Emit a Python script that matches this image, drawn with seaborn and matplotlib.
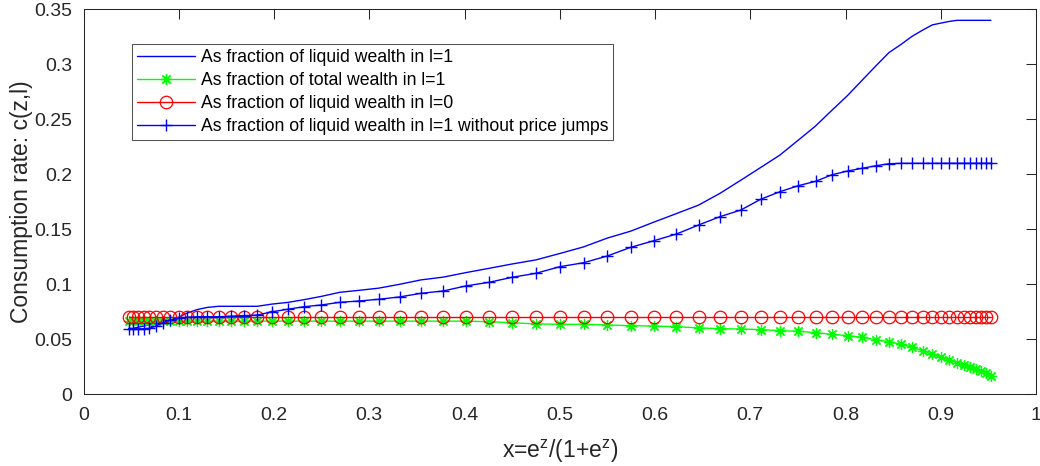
import numpy as np
import pandas as pd
import matplotlib
matplotlib.use("Agg")
import matplotlib.pyplot as plt
import seaborn as sns

# grid of x = e^z/(1+e^z)
x = [0.0474, 0.0522, 0.0573, 0.0630, 0.0691, 0.0759, 0.0832, 0.0911, 0.0998, 0.1091,
     0.1192, 0.1301, 0.1419, 0.1545, 0.1680, 0.1824, 0.1978, 0.2142, 0.2315, 0.2497,
     0.2689, 0.2891, 0.3100, 0.3318, 0.3543, 0.3775, 0.4013, 0.4256, 0.4502, 0.4750,
     0.5000, 0.5250, 0.5498, 0.5744, 0.5987, 0.6225, 0.6457, 0.6682, 0.6900, 0.7109,
     0.7311, 0.7503, 0.7685, 0.7858, 0.8022, 0.8176, 0.8320, 0.8455, 0.8581, 0.8699,
     0.8808, 0.8909, 0.9002, 0.9089, 0.9168, 0.9241, 0.9309, 0.9370, 0.9427, 0.9478,
     0.9526]

liquid_l1 = [0.060, 0.060, 0.061, 0.062, 0.063, 0.064, 0.065, 0.067, 0.070, 0.074,
             0.077, 0.079, 0.080, 0.080, 0.080, 0.080, 0.082, 0.0835, 0.086, 0.089,
             0.0927, 0.0945, 0.0965, 0.100, 0.104, 0.1065, 0.1106, 0.1145, 0.1185, 0.1222,
             0.128, 0.134, 0.142, 0.1483, 0.1565, 0.1643, 0.172, 0.1827, 0.1946, 0.2062,
             0.2175, 0.231, 0.2439, 0.2583, 0.2717, 0.2857, 0.2987, 0.3106, 0.318, 0.3255,
             0.331, 0.3358, 0.3375, 0.339, 0.340, 0.340, 0.340, 0.340, 0.340, 0.340,
             0.340]

total_l1 = [0.0665, 0.0665, 0.0665, 0.0665, 0.0665, 0.0665, 0.0665, 0.0665, 0.0665, 0.0665,
            0.0665, 0.0665, 0.0665, 0.0665, 0.0665, 0.0665, 0.0665, 0.0665, 0.0665, 0.0665,
            0.0665, 0.0665, 0.0665, 0.0665, 0.0665, 0.0665, 0.0665, 0.066, 0.065, 0.064,
            0.0636, 0.0636, 0.063, 0.0624, 0.062, 0.0615, 0.0603, 0.0597, 0.0593, 0.0588,
            0.0578, 0.0573, 0.056, 0.0545, 0.0533, 0.0518, 0.0496, 0.0478, 0.0455, 0.0427,
            0.0396, 0.0366, 0.0336, 0.0312, 0.0287, 0.0264, 0.0245, 0.0227, 0.021, 0.019,
            0.0165]

liquid_l0 = [0.0705] * 61

liquid_l1_nojump = [0.0595, 0.0595, 0.0595, 0.0595, 0.060, 0.062, 0.065, 0.0675, 0.069, 0.070,
                    0.0705, 0.0705, 0.0705, 0.071, 0.0715, 0.072, 0.075, 0.0773, 0.0796, 0.0812,
                    0.0836, 0.0848, 0.0864, 0.0885, 0.0918, 0.0939, 0.0985, 0.1018, 0.1064, 0.110,
                    0.116, 0.1196, 0.1257, 0.1336, 0.1396, 0.1457, 0.1539, 0.1615, 0.1675, 0.1773,
                    0.1842, 0.1896, 0.1936, 0.1996, 0.203, 0.2055, 0.2078, 0.2096, 0.21, 0.21,
                    0.21, 0.21, 0.21, 0.21, 0.21, 0.21, 0.21, 0.21, 0.21, 0.21,
                    0.21]

labels = ['As fraction of liquid wealth in l=1',
          'As fraction of total wealth in l=1',
          'As fraction of liquid wealth in l=0',
          'As fraction of liquid wealth in l=1 without price jumps']

x_ticks = [0, 0.1, 0.2, 0.3, 0.4, 0.5, 0.6, 0.7, 0.8, 0.9, 1]
x_ticklabels = ['0', '0.1', '0.2', '0.3', '0.4', '0.5', '0.6', '0.7', '0.8', '0.9', '1']
y_ticks = [0, 0.05, 0.1, 0.15, 0.2, 0.25, 0.3, 0.35]
y_ticklabels = ['0', '0.05', '0.1', '0.15', '0.2', '0.25', '0.3', '0.35']

sns.set_style("white")
plt.rcParams['font.family'] = ['Liberation Sans', 'DejaVu Sans']
plt.rcParams['mathtext.fontset'] = 'custom'
plt.rcParams['mathtext.rm'] = 'Liberation Sans'
plt.rcParams['mathtext.default'] = 'regular'

dark = '#262626'

fig = plt.figure(figsize=(10.4, 4.66), dpi=100)
# axes box: x 83.5..1036 px, y 9.3..394.3 px
ax = fig.add_axes([0.0803, 0.1539, 0.9159, 0.8261])

sns.lineplot(x=x, y=liquid_l1, ax=ax, color='blue', linewidth=1.0, label=labels[0])
sns.lineplot(x=x, y=total_l1, ax=ax, color=(0, 1, 0), linewidth=1.0, marker=(8, 2, 0),
             markersize=8, markeredgecolor=(0, 1, 0), markeredgewidth=0.9, label=labels[1])
sns.lineplot(x=x, y=liquid_l0, ax=ax, color='red', linewidth=1.0, marker='o',
             markersize=9, markerfacecolor='none', markeredgecolor='red',
             markeredgewidth=0.9, label=labels[2])
sns.lineplot(x=x, y=liquid_l1_nojump, ax=ax, color='blue', linewidth=1.0, marker='+',
             markersize=9, markeredgecolor='blue', markeredgewidth=1.0, label=labels[3])

ax.set_xlim(0, 1)
ax.set_ylim(0, 0.35)
ax.set_xticks(x_ticks)
ax.set_xticklabels(x_ticklabels)
ax.set_yticks(y_ticks)
ax.set_yticklabels(y_ticklabels)
ax.tick_params(direction='in', length=7, width=0.75, color=dark, labelcolor=dark,
               labelsize=14, top=True, right=True)
ax.tick_params(axis='y', pad=8)
ax.tick_params(axis='x', pad=9)
for s in ax.spines.values():
    s.set_visible(True)
    s.set_color(dark)
    s.set_linewidth(0.75)

ax.set_xlabel('x=e$^{z}$/(1+e$^{z}$)', fontsize=16.5, color=dark, labelpad=10)
ax.set_ylabel('Consumption rate: c(z,l)', fontsize=16.5, color=dark, labelpad=1)

leg = ax.legend(loc='upper left', bbox_to_anchor=(0.0508, 0.91), borderaxespad=0,
                fancybox=False, fontsize=12.7, handlelength=3.3, labelspacing=0.33,
                handletextpad=0.3, borderpad=0.3, frameon=True)
leg.get_frame().set_edgecolor(dark)
leg.get_frame().set_linewidth(0.75)
for t in leg.get_texts():
    t.set_color('black')

fig.savefig('out.png', dpi=100)
